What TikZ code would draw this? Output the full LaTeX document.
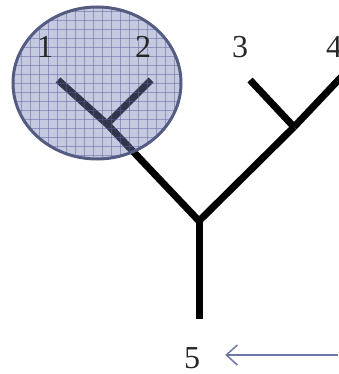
\documentclass[tikz,border=0pt]{standalone}
\usepackage{fontspec}
\setmainfont{Liberation Serif}
\usetikzlibrary{arrows.meta,shapes.geometric}
\definecolor{branch}{RGB}{0,0,0}
\definecolor{ellfill}{RGB}{120,128,180}
\definecolor{ellline}{RGB}{85,92,130}
\definecolor{gridc}{RGB}{90,98,160}
\definecolor{arrowc}{RGB}{110,120,170}
\tikzset{
  br/.style={line width=7pt, draw=branch},
  lbl/.style={font=\fontsize{32}{32}\selectfont, inner sep=0pt, text=black!85},
  gridline/.style={gridc, line width=0.5pt, opacity=0.5},
}
\begin{document}
\begin{tikzpicture}[x=1pt,y=-1pt]
\useasboundingbox (0,0) rectangle (338,374);
% coordinates
\coordinate (t1) at (58,80);
\coordinate (t2) at (151,80);
\coordinate (t3) at (250,80);
\coordinate (t4) at (345,73);
\coordinate (j12) at (107,124);
\coordinate (j34) at (294,127);
\coordinate (root) at (199,221);
\coordinate (r5) at (199,319);
% branches
\draw[br] (t1) -- (j12);
\draw[br] (t2) -- (j12);
\draw[br, line cap=butt] (j12) -- (root);
\draw[br] (t3) -- (j34);
\draw[br] (t4) -- (j34);
\draw[br] (j34) -- (root);
\draw[br] (root) -- (r5);
% ellipse overlay
\begin{scope}
  \clip (97,83) ellipse [x radius=84, y radius=76];
  \fill[ellfill, fill opacity=0.42] (0,0) rectangle (200,170);
  \foreach \gx in {3,12,...,190} {\draw[gridline] (\gx,0) -- (\gx,170);}
  \foreach \gy in {2,11,...,170} {\draw[gridline] (0,\gy) -- (200,\gy);}
\end{scope}
\node[draw=ellline, line width=3pt, ellipse, minimum width=168, minimum height=152, inner sep=0pt] (ell) at (97,83) {};
% labels
\node[lbl] (n1) at (45,47) {1};
\node[lbl] (n2) at (143,47) {2};
\node[lbl] (n3) at (240,47) {3};
\node[lbl, anchor=west] (n4) at (326,47) {4};
\node[lbl] (n5) at (192,358) {5};
\coordinate (astart) at (338,355);
\draw[arrowc, line width=1.5pt, -{Straight Barb[length=11pt, width=20pt, line width=1.5pt]}] (astart) -- ([xshift=25pt]n5.east |- astart);
\end{tikzpicture}
\end{document}
